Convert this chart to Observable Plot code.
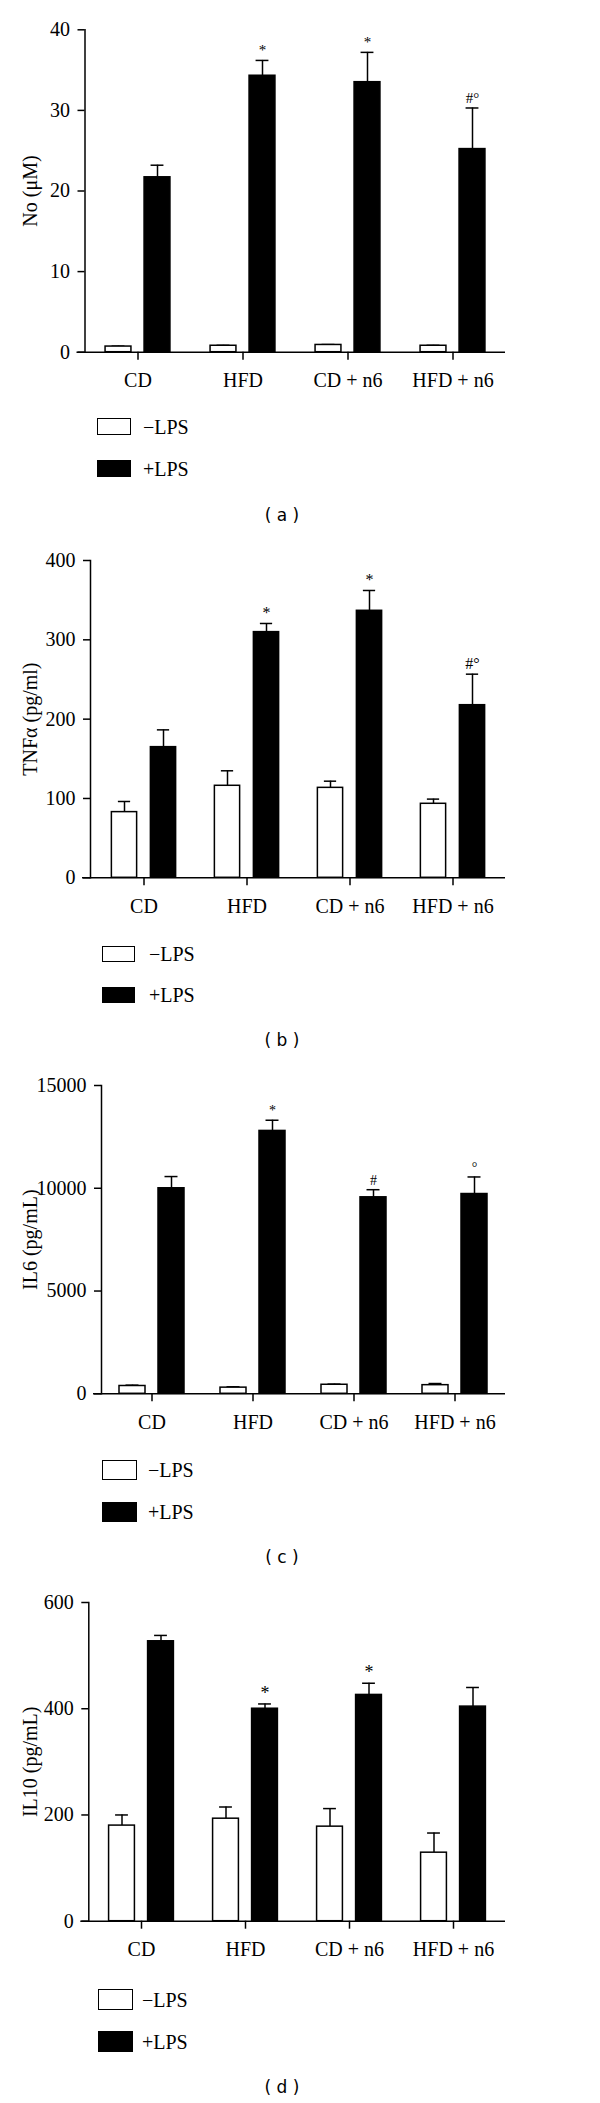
<!DOCTYPE html>
<html><head><meta charset="utf-8">
<script src="https://cdn.jsdelivr.net/npm/d3@7"></script>
<script src="https://cdn.jsdelivr.net/npm/@observablehq/plot@0.6"></script>
<style>
body{margin:0;background:#fff;}
#root{position:relative;width:600px;height:2103px;font-family:"Liberation Serif",serif;overflow:hidden;}
.panel{position:absolute;left:0;}
.box{position:absolute;border:1.5px solid #000;box-sizing:border-box;background:#fff;}
.box.black{background:#000;}
.lbl{position:absolute;font-size:20px;line-height:1;transform:translateY(-50%);white-space:nowrap;}
.cap{position:absolute;font-family:"DejaVu Sans",sans-serif;font-size:17px;transform:translate(-50%,-50%);white-space:pre;}
</style></head><body><div id="root"></div>
<script>
const groups = ["CD", "HFD", "CD + n6", "HFD + n6"];
const legendLabels = ["−LPS", "+LPS"];

// (a) NO
const noMinus = [0.7, 0.8, 0.9, 0.8];
const noMinusErr = [0.75, 0.85, 0.95, 0.85];
const noPlus = [21.7, 34.3, 33.5, 25.2];
const noPlusErr = [23.2, 36.2, 37.2, 30.3];
const noNotes = ["", "*", "*", "#°"];
const noTicks = [0, 10, 20, 30, 40];

// (b) TNFα
const tnfMinus = [82.8, 116, 113.4, 93.3];
const tnfMinusErr = [96.2, 134.9, 121.8, 99.2];
const tnfPlus = [164.7, 309.7, 336.6, 217.6];
const tnfPlusErr = [186.5, 320.6, 362.2, 256.7];
const tnfNotes = ["", "*", "*", "#°"];
const tnfTicks = [0, 100, 200, 300, 400];

// (c) IL6
const il6Minus = [380, 300, 440, 420];
const il6MinusErr = [420, 340, 470, 500];
const il6Plus = [10000, 12790, 9560, 9720];
const il6PlusErr = [10570, 13310, 9930, 10550];
const il6Notes = ["", "*", "#", "°"];
const il6Ticks = [0, 5000, 10000, 15000];

// (d) IL10
const il10Minus = [180, 193, 178, 129];
const il10MinusErr = [200, 215, 212, 166];
const il10Plus = [527, 400, 426, 404];
const il10PlusErr = [538, 409, 448, 440];
const il10Notes = ["", "*", "*", ""];
const il10Ticks = [0, 200, 400, 600];

const root = document.getElementById("root");

function rowsOf(values, errs, notes) {
  return groups.map((g, i) => ({group: g, value: values[i], err: errs[i], note: notes ? notes[i] : ""}));
}

function panel(cfg) {
  const W = 600, mr = 95;
  const step = (W - cfg.ml - mr) / groups.length;
  const off = 19.5, bw = 26, cw = 13;
  const ins = (side, w) => ({insetLeft: step / 2 + side * off - w / 2, insetRight: step / 2 - side * off - w / 2});
  const minus = rowsOf(cfg.minus, cfg.minusErr);
  const plus = rowsOf(cfg.plus, cfg.plusErr, cfg.notes);
  const svg = Plot.plot({
    width: W, height: cfg.height,
    marginTop: cfg.mt, marginBottom: cfg.height - cfg.zero, marginLeft: cfg.ml, marginRight: mr,
    style: {background: "transparent", fontFamily: "'Liberation Serif', serif", fontSize: "20px", color: "#000"},
    x: {domain: groups, padding: 0},
    y: {domain: [cfg.ticks[0], cfg.ticks[cfg.ticks.length - 1]]},
    marks: [
      Plot.ruleX(minus, {x: "group", y1: "value", y2: "err", dx: -off, stroke: "#000", strokeWidth: 1.5}),
      Plot.tickY(minus, {x: "group", y: "err", ...ins(-1, cw), stroke: "#000", strokeWidth: 1.5}),
      Plot.barY(minus, {x: "group", y: "value", fill: "#fff", stroke: "#000", strokeWidth: 1.5, ...ins(-1, bw)}),
      Plot.ruleX(plus, {x: "group", y1: "value", y2: "err", dx: off, stroke: "#000", strokeWidth: 1.5}),
      Plot.tickY(plus, {x: "group", y: "err", ...ins(1, cw), stroke: "#000", strokeWidth: 1.5}),
      Plot.barY(plus, {x: "group", y: "value", fill: "#000", stroke: "#000", strokeWidth: 1.5, ...ins(1, bw)}),
      Plot.text(plus, {x: "group", y: "err", text: "note", dx: off, dy: -5, lineAnchor: "bottom", fontSize: cfg.noteSize || 18, fill: "#000"}),
      Plot.ruleY([cfg.ticks[0]], {insetLeft: -8, stroke: "#000", strokeWidth: 1.5}),
      Plot.frame({anchor: "left", stroke: "#000", strokeWidth: 1.5}),
      Plot.axisX({tickSize: 8, tickPadding: 13, fontSize: 20, label: null, strokeWidth: 1.5}),
      Plot.axisY({ticks: cfg.ticks, tickSize: 7, tickPadding: 8, tickFormat: d => String(d), fontSize: 20,
        label: cfg.label, labelAnchor: "center", labelArrow: "none", labelOffset: cfg.ml - 22, strokeWidth: 1.5})
    ]
  });
  const wrap = document.createElement("div");
  wrap.className = "panel";
  wrap.style.top = cfg.top + "px";
  wrap.appendChild(svg);
  root.appendChild(wrap);

  // legend
  legendLabels.forEach((t, i) => {
    const lg = cfg.legend;
    const b = document.createElement("div");
    b.className = "box" + (i ? " black" : "");
    b.style.left = lg.x + "px";
    b.style.top = lg.y[i] + "px";
    b.style.width = lg.w + "px";
    b.style.height = lg.h + "px";
    root.appendChild(b);
    const s = document.createElement("div");
    s.className = "lbl";
    s.textContent = t;
    s.style.left = lg.tx + "px";
    s.style.top = (lg.y[i] + lg.h / 2) + "px";
    root.appendChild(s);
  });
  const c = document.createElement("div");
  c.className = "cap";
  c.textContent = "( " + cfg.caption + " )";
  c.style.left = "282px";
  c.style.top = cfg.capY + "px";
  root.appendChild(c);
}

panel({top: 0, height: 400, mt: 29.3, zero: 351.7, ml: 84.5, ticks: noTicks, label: "No (μM)",
  minus: noMinus, minusErr: noMinusErr, plus: noPlus, plusErr: noPlusErr, notes: noNotes, noteSize: 15,
  legend: {x: 97, y: [418, 460], w: 34, h: 17, tx: 143}, caption: "a", capY: 515});

panel({top: 530, height: 400, mt: 30, zero: 347.3, ml: 90, ticks: tnfTicks, label: "TNFα (pg/ml)",
  minus: tnfMinus, minusErr: tnfMinusErr, plus: tnfPlus, plusErr: tnfPlusErr, notes: tnfNotes, noteSize: 16,
  legend: {x: 102, y: [946, 987], w: 33, h: 16, tx: 149}, caption: "b", capY: 1040});

panel({top: 1055, height: 400, mt: 30, zero: 338.3, ml: 101, ticks: il6Ticks, label: "IL6 (pg/mL)",
  minus: il6Minus, minusErr: il6MinusErr, plus: il6Plus, plusErr: il6PlusErr, notes: il6Notes, noteSize: 14,
  legend: {x: 102, y: [1460, 1502], w: 35, h: 20, tx: 148}, caption: "c", capY: 1557});

panel({top: 1572, height: 400, mt: 30, zero: 348.7, ml: 88.3, ticks: il10Ticks, label: "IL10 (pg/mL)",
  minus: il10Minus, minusErr: il10MinusErr, plus: il10Plus, plusErr: il10PlusErr, notes: il10Notes,
  legend: {x: 98, y: [1989, 2031], w: 35, h: 21, tx: 142}, caption: "d", capY: 2087});
</script>
</body></html>
